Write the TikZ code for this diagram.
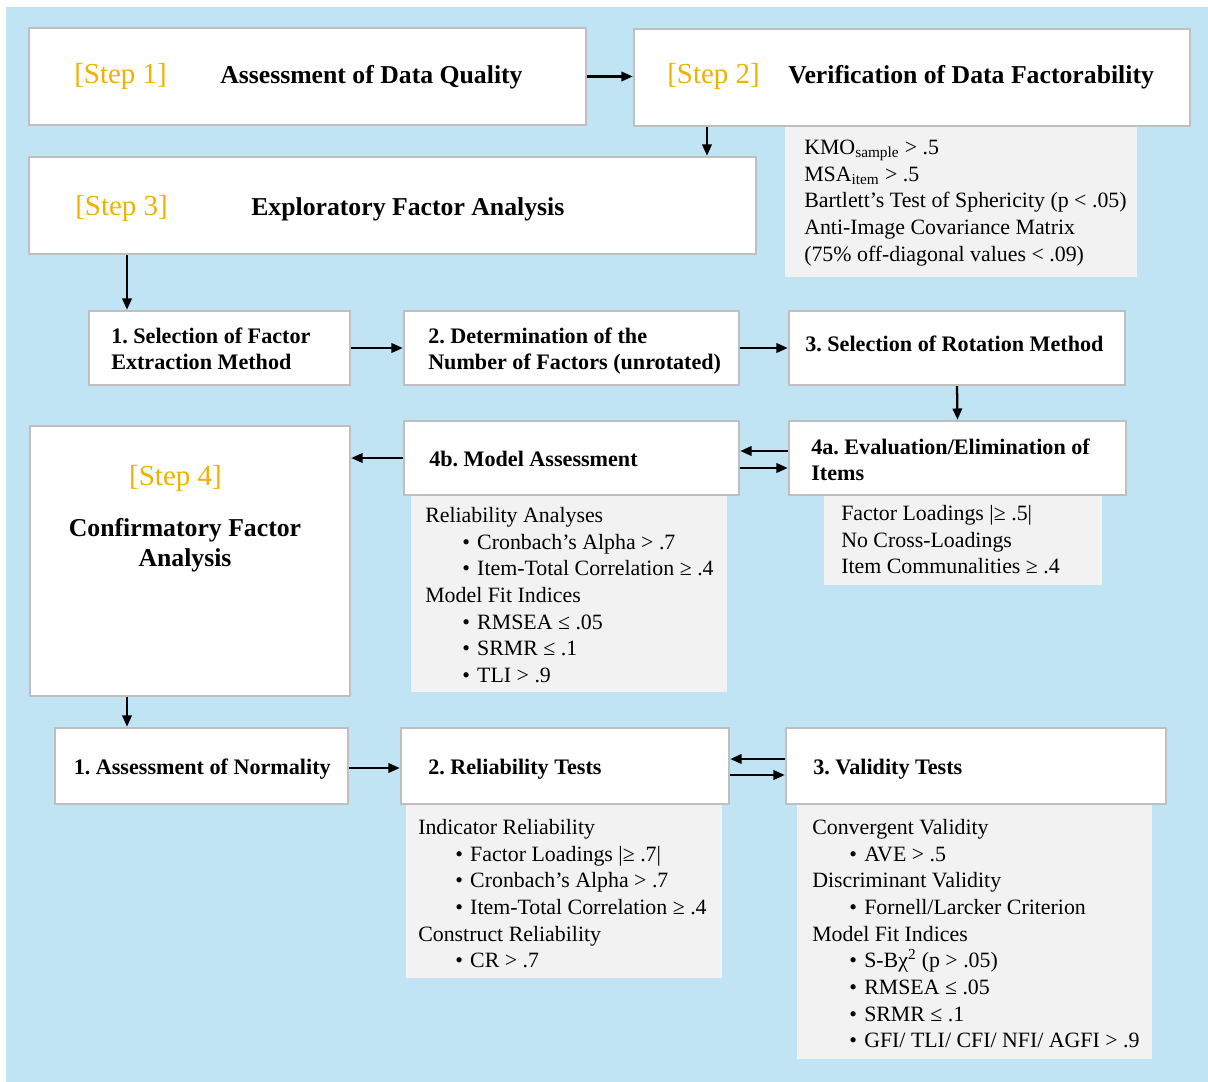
\documentclass[tikz,border=0pt]{standalone}
\usepackage{fontspec}
\setmainfont{Liberation Serif}
\usetikzlibrary{arrows.meta,fit,calc}
\definecolor{bgblue}{RGB}{193,228,244}
\definecolor{boxgray}{RGB}{191,191,191}
\definecolor{fillgray}{RGB}{242,242,242}
\definecolor{stepgold}{RGB}{240,178,0}
\frenchspacing
\newcommand\bul{\hspace*{27.75pt}\makebox[11.25pt][l]{•}}
\tikzset{
  box/.style={draw=boxgray, line width=1.8pt, fill=white, inner sep=0pt},
  critbox/.style={fill=fillgray, draw=none, inner sep=0pt},
  steplabel/.style={inner sep=0pt, anchor=base west, text=stepgold, font=\fontsize{21.75}{26}\selectfont},
  steptitle/.style={inner sep=0pt, anchor=base west, font=\bfseries\fontsize{19.3}{22.5}\selectfont},
  subhead/.style={inner sep=0pt, anchor=base west, font=\bfseries\fontsize{16.6}{19.5}\selectfont},
  subheadml/.style={inner sep=0pt, anchor=north west, align=left, font=\bfseries\fontsize{16.6}{19.5}\selectfont},
  crittext/.style={inner sep=0pt, anchor=north west, align=left, font=\fontsize{16.4}{20}\selectfont},
  arr/.style={line width=1.7pt, -{Triangle[length=8.5pt,width=7pt]}},
}
\begin{document}
\begin{tikzpicture}[x=0.75pt,y=-0.75pt]
\useasboundingbox (0,0) rectangle (1208,1082);
\fill[white] (0,0) rectangle (1208,1082);
\fill[bgblue] (6,7) rectangle (1208,1082);

% criteria panels
\node[critbox, fit={(785,126) (1137,277)}] (c2p) {};
\node[critbox, fit={(824,495) (1102,585)}] (a4p) {};
\node[critbox, fit={(411,495) (727,692)}] (b4p) {};
\node[critbox, fit={(406,802) (722,978)}] (n2p) {};
\node[critbox, fit={(797,802) (1152,1059)}] (n3p) {};

% boxes
\node[box, fit={(29,28) (586,125)}] (s1) {};
\node[box, fit={(634,29) (1190,126)}] (s2) {};
\node[box, fit={(29,157) (756,254)}] (s3) {};
\node[box, fit={(89,311) (350,385)}] (e1) {};
\node[box, fit={(404,311) (739,385)}] (e2) {};
\node[box, fit={(789,311) (1125,385)}] (e3) {};
\node[box, fit={(789,421) (1126,495)}] (a4) {};
\node[box, fit={(404,421) (739,495)}] (b4) {};
\node[box, fit={(30,426) (350,696)}] (s4) {};
\node[box, fit={(55,728) (348,804)}] (n1) {};
\node[box, fit={(401,728) (729,804)}] (n2) {};
\node[box, fit={(786,728) (1166,804)}] (n3) {};

% step texts
\node[steplabel] (s1l) at (74,83) {[Step 1]};
\node[steptitle] (s1t) at (220,83) {Assessment of Data Quality};
\node[steplabel] (s2l) at (667,83) {[Step 2]};
\node[steptitle] (s2t) at (788,83) {Verification of Data Factorability};
\node[steplabel] (s3l) at (75,215) {[Step 3]};
\node[steptitle] (s3t) at (251,215) {Exploratory Factor Analysis};
\node[inner sep=0pt, anchor=base, text=stepgold, font=\fontsize{21.75}{26}\selectfont] (s4l) at (175.5,485) {[Step 4]};
\node[inner sep=0pt, anchor=north, align=center, font=\bfseries\fontsize{19.3}{22.5}\selectfont] (s4t) at (185,515) {\strut Confirmatory Factor\\Analysis};

% sub headings
\node[subheadml] (e1t) at (111,325) {\strut 1. Selection of Factor\\Extraction Method};
\node[subheadml] (e2t) at (428,325) {\strut 2. Determination of the\\Number of Factors (unrotated)};
\node[subhead] (e3t) at (805,351) {3. Selection of Rotation Method};
\node[subheadml] (a4t) at (811,436) {\strut 4a. Evaluation/Elimination of\\Items};
\node[subhead] (b4t) at (429,466) {4b. Model Assessment};
\node[subhead] (n1t) at (73.5,774) {1. Assessment of Normality};
\node[subhead] (n2t) at (428,774) {2. Reliability Tests};
\node[subhead] (n3t) at (813,774) {3. Validity Tests};

% criteria texts
\node[crittext] (c2x) at (804,135.5) {\strut KMO\textsubscript{sample} > .5\\
MSA\textsubscript{item} > .5\\
Bartlett’s Test of Sphericity (p < .05)\\
Anti-Image Covariance Matrix\\
(75\% off-diagonal values < .09)};
\node[crittext] (a4x) at (841,501.5) {\strut Factor Loadings |≥ .5|\\
No Cross-Loadings\\
Item Communalities ≥ .4};
\node[crittext] (b4x) at (425,503.5) {\strut Reliability Analyses\\
\bul Cronbach’s Alpha > .7\\
\bul Item-Total Correlation ≥ .4\\
Model Fit Indices\\
\bul RMSEA ≤ .05\\
\bul SRMR ≤ .1\\
\bul TLI > .9};
\node[crittext] (n2x) at (418,815.5) {\strut Indicator Reliability\\
\bul Factor Loadings |≥ .7|\\
\bul Cronbach’s Alpha > .7\\
\bul Item-Total Correlation ≥ .4\\
Construct Reliability\\
\bul CR > .7};
\node[crittext] (n3x) at (812,815.5) {\strut Convergent Validity\\
\bul AVE > .5\\
Discriminant Validity\\
\bul Fornell/Larcker Criterion\\
Model Fit Indices\\
\bul S-Bχ\textsuperscript{2} (p > .05)\\
\bul RMSEA ≤ .05\\
\bul SRMR ≤ .1\\
\bul GFI/ TLI/ CFI/ NFI/ AGFI > .9};

% connectors
\coordinate (k1) at (707,0);
\coordinate (k2) at (127,0);
\draw[arr] (s1.east) -- (s1.east -| s2.west);
\draw[arr] (k1 |- s2.south) -- (k1 |- s3.north);
\draw[arr] (k2 |- s3.south) -- (k2 |- e1.north);
\draw[arr] (e1.east) -- (e1.east -| e2.west);
\draw[arr] (e2.east) -- (e2.east -| e3.west);
\draw[arr] (e3.south) -- (a4.north);
\path ([yshift=5.25pt]a4.west) coordinate (u1);
\path ([yshift=-7.5pt]b4.east) coordinate (u2);
\draw[arr] (u1) -- (u1 -| b4.east);
\draw[arr] (u2) -- (u2 -| a4.west);
\draw[arr] (b4.west) -- (b4.west -| s4.east);
\draw[arr] (k2 |- s4.south) -- (k2 |- n1.north);
\path ([yshift=-1.5pt]n1.east) coordinate (u3);
\draw[arr] (u3) -- (u3 -| n2.west);
\path ([yshift=5.25pt]n3.west) coordinate (u4);
\path ([yshift=-6.75pt]n2.east) coordinate (u5);
\draw[arr] (u4) -- (u4 -| n2.east);
\draw[arr] (u5) -- (u5 -| n3.west);
\end{tikzpicture}
\end{document}
